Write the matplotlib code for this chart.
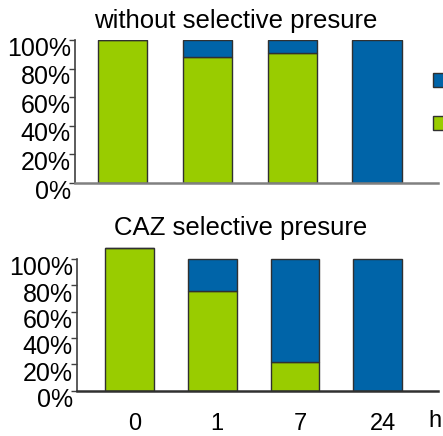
import matplotlib
matplotlib.use("Agg")
import matplotlib.pyplot as plt
from matplotlib.patches import Patch
from matplotlib.transforms import ScaledTranslation

plt.rcParams['font.family'] = ['Liberation Sans', 'DejaVu Sans']

hours = ['0', '1', '7', '24']

# percentages
top_green = [100, 88, 91, 0]
top_blue = [0, 12, 9, 100]
bot_green = [108, 76, 22, 0]
bot_blue = [0, 24, 78, 100]

GREEN = '#99CC00'
BLUE = '#0064A8'
EDGE = '#303030'

W, H = 443, 436
fig = plt.figure(figsize=(W / 100, H / 100), dpi=100)


def panel(rect, green, blue, ylim, xlim, width, base_col, lab_shift):
    ax = fig.add_axes(rect)
    x = range(len(green))
    ax.bar(x, green, width, color=GREEN, edgecolor=EDGE, linewidth=1)
    ax.bar(x, blue, width, bottom=green, color=BLUE, edgecolor=EDGE, linewidth=1)
    ax.set_ylim(*ylim)
    ax.set_xlim(*xlim)
    for s in ['top', 'right']:
        ax.spines[s].set_visible(False)
    ax.spines['left'].set_bounds(0, 100)
    ax.spines['left'].set_color('#404040')
    ax.spines['left'].set_linewidth(1.2)
    ax.spines['bottom'].set_color(base_col)
    ax.spines['bottom'].set_linewidth(1.8)
    ax.set_yticks(range(0, 101, 20))
    ax.set_yticklabels([f'{v}%' for v in range(0, 101, 20)], fontsize=18)
    ax.tick_params(axis='y', length=4, width=1, color='#404040', pad=-1)
    for lab in ax.get_yticklabels():
        lab.set_transform(lab.get_transform() +
                          ScaledTranslation(0, -lab_shift / 100, fig.dpi_scale_trans))
    return ax


ax1 = panel([75 / W, 1 - 183 / H, 363 / W, 143 / H], top_green, top_blue,
            (0, 100), (-0.56, 3.72), 0.58, '#808080', 6)
ax1.set_xticks([])

ax2 = panel([77 / W, 1 - 390.7 / H, 361 / W, 145 / H], bot_green, bot_blue,
            (0, 110), (-0.635, 3.73), 0.59, '#303030', 7)
ax2.set_xticks(range(len(hours)))
ax2.set_xticklabels(hours, fontsize=17)
ax2.tick_params(axis='x', length=0, pad=16)
for lab in ax2.get_xticklabels():
    lab.set_transform(lab.get_transform() +
                      ScaledTranslation(0.05, 0, fig.dpi_scale_trans))

fig.text(428 / W, 1 - 421 / H, 'h', fontsize=17, ha='left', va='center')
fig.text(236 / W, 1 - 21 / H, 'without selective presure', fontsize=18.5,
         ha='center', va='center')
fig.text(241 / W, 1 - 228 / H, 'CAZ selective presure', fontsize=18.5,
         ha='center', va='center')

fig.legend(handles=[Patch(facecolor=BLUE, edgecolor=EDGE),
                    Patch(facecolor=GREEN, edgecolor=EDGE)],
           labels=['', ''], loc='upper left', bbox_to_anchor=(426 / W, 1 - 66 / H),
           frameon=False, fontsize=10, borderpad=0, handlelength=1.6,
           handleheight=1.2, labelspacing=2.0, handletextpad=0.3)

fig.savefig('out.png', dpi=100)
